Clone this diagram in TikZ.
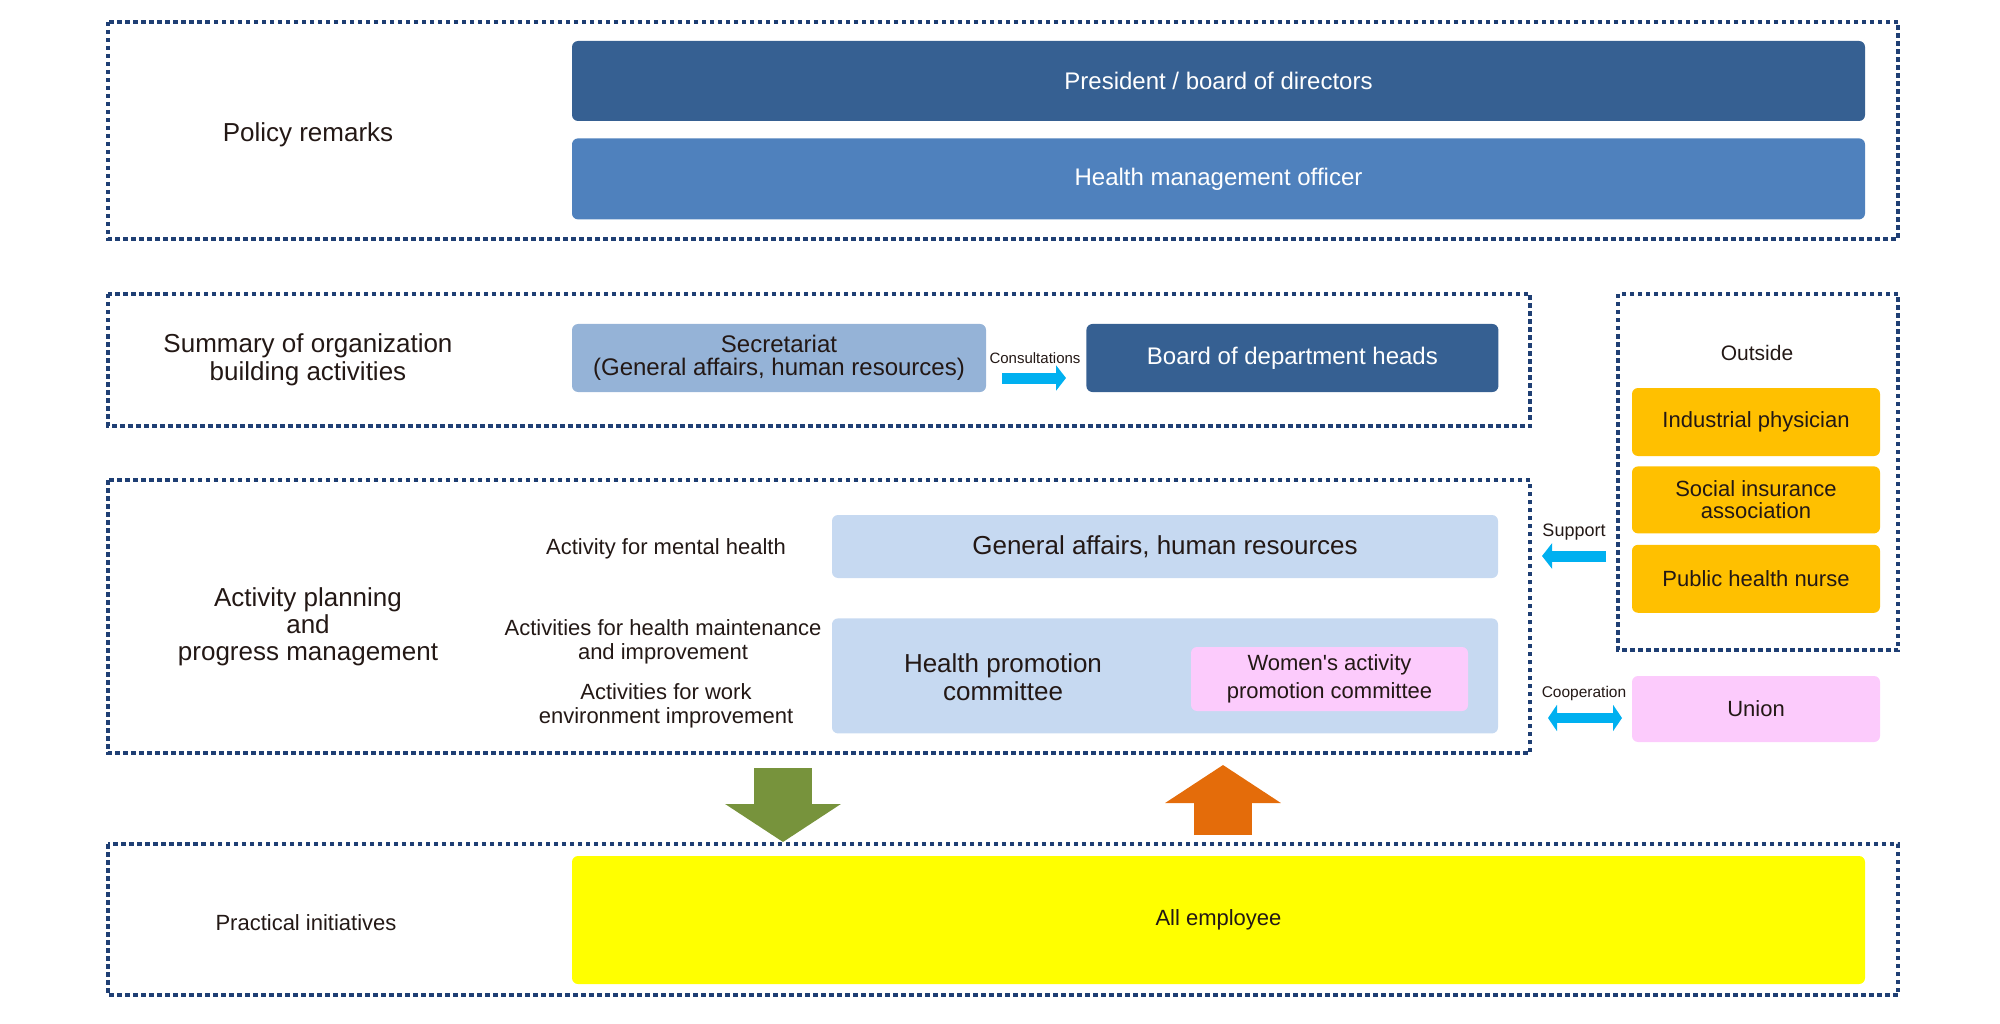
\documentclass[tikz,border=0pt]{standalone}
\usepackage{fontspec}
\setmainfont{Liberation Sans}
\usetikzlibrary{arrows.meta,positioning}

\definecolor{framecol}{RGB}{31,63,116}
\definecolor{inkcol}{RGB}{35,24,21}
\definecolor{presblue}{RGB}{54,96,146}
\definecolor{hmoblue}{RGB}{79,129,189}
\definecolor{secblue}{RGB}{149,179,215}
\definecolor{paleblue}{RGB}{198,217,241}
\definecolor{pinkbox}{RGB}{252,203,252}
\definecolor{amberbox}{RGB}{255,192,0}
\definecolor{yellowbox}{RGB}{255,255,0}
\definecolor{downgreen}{RGB}{119,147,60}
\definecolor{uporange}{RGB}{228,108,10}
\definecolor{arrowcyan}{RGB}{0,176,240}

\newcommand\setfs[2]{\fontsize{#1}{#2}\selectfont}

\begin{document}
\begin{tikzpicture}[x=1pt,y=-1pt,node distance=10pt,
  every node/.style={text=inkcol},
  dot frame/.style={draw=framecol,line width=4pt,dash pattern=on 4.5pt off 3.5pt},
  main box/.style={rounded corners=6pt,inner sep=0pt,align=center},
  wide box/.style={main box,minimum width=1293pt},
  side box/.style={main box,fill=amberbox,minimum width=248pt,font=\setfs{22}{22}},
  side label/.style={align=center,font=\setfs{22}{24}},
  cyan arrow/.style={draw=arrowcyan,line width=11pt,-{Triangle[length=10pt,width=25pt]}},
  block arrow/.style={line width=58pt,-{Triangle[length=38pt,width=114pt]}}]

  \useasboundingbox (0,0) rectangle (2000,1024);

  % dotted frames
  \draw[dot frame] (108,22) rectangle (1898,239);
  \draw[dot frame] (108,294) rectangle (1530,426);
  \draw[dot frame] (108,480) rectangle (1530,753);
  \draw[dot frame] (1618,294) rectangle (1898,650);
  \draw[dot frame] (108,844) rectangle (1898,995);

  % left labels
  \node[align=center,font=\setfs{26}{28}] (policy) at (308,135) {Policy remarks};
  \node[align=center,font=\setfs{26}{28}] (summary) at (308,360) {Summary of organization\\building activities};
  \node[align=center,font=\setfs{26}{27}] (planning) at (308,627) {Activity planning\\and\\progress management};
  \node[align=center,font=\setfs{22}{24}] (practice) at (306,923) {Practical initiatives};

  % policy row
  \node[wide box,fill=presblue,text=white,minimum height=80pt,font=\setfs{24}{28}] (pres) at (1218.5,81) {President / board of directors};
  \node[wide box,fill=hmoblue,text=white,minimum height=81pt,font=\setfs{24}{28},below=17pt of pres] (hmo) {Health management officer};

  % organization row
  \node[main box,fill=secblue,minimum width=414pt,minimum height=68pt,font=\setfs{24}{23}] (sec) at (779,358) {Secretariat\\(General affairs, human resources)};
  \node[main box,fill=presblue,text=white,minimum width=412pt,minimum height=68pt,font=\setfs{24}{28},right=100pt of sec] (board) {Board of department heads};
  \node[font=\setfs{15}{16}] (cons) at (1035,358) {Consultations};

  % activity row
  \node[main box,fill=paleblue,minimum width=666pt,minimum height=63pt,font=\setfs{26}{28}] (ga) at (1165,546.5) {General affairs, human resources};
  \node[main box,fill=paleblue,minimum width=666pt,minimum height=115pt,below=40pt of ga] (hpc) {};
  \node[align=center,font=\setfs{26}{28}] (hpc text) at (1003,677) {Health promotion\\committee};
  \node[main box,fill=pinkbox,minimum width=277pt,minimum height=64pt,font=\setfs{22}{28}] (women) at (1329.5,679) {Women\textquotesingle s activity\\promotion committee};
  \node[side label] (mental) at (666,549) {Activity for mental health};
  \node[side label] (maint) at (663,642) {Activities for health maintenance\\and improvement};
  \node[side label] (work) at (666,706) {Activities for work\\environment improvement};

  % outside
  \node[font=\setfs{21}{24}] (outside) at (1757,353) {Outside};
  \node[side box,minimum height=68pt] (phys) at (1756,422) {Industrial physician};
  \node[side box,minimum height=67pt,below=10pt of phys] (social) {Social insurance\\association};
  \node[side box,minimum height=68pt,below=11pt of social] (nurse) {Public health nurse};
  \node[side box,fill=pinkbox,minimum height=66pt] (union) at (1756,709) {Union};
  \node[font=\setfs{18}{20}] (support) at (1574,532) {Support};
  \node[font=\setfs{15.5}{18}] (coop) at (1584,693) {Cooperation};

  % bottom row
  \node[wide box,fill=yellowbox,minimum height=128pt,font=\setfs{22}{24}] (staff) at (1218.5,920) {All employee};

  % arrows
  \coordinate (cons a) at (1002,378);
  \coordinate (cons b) at (1066,378);
  \coordinate (sup a) at (1606,556);
  \coordinate (sup b) at (1542,556);
  \coordinate (coop a) at (1548,718);
  \coordinate (coop b) at (1622,718);
  \coordinate (down a) at (783,768);
  \coordinate (down b) at (783,842);
  \coordinate (up a) at (1223,835);
  \coordinate (up b) at (1223,765);

  \draw[cyan arrow] (cons a) -- (cons b);
  \draw[cyan arrow] (sup a) -- (sup b);
  \draw[cyan arrow,{Triangle[length=9pt,width=26pt]}-{Triangle[length=9pt,width=26pt]},line width=10pt] (coop a) -- (coop b);
  \draw[block arrow,draw=downgreen] (down a) -- (down b);
  \draw[block arrow,draw=uporange] (up a) -- (up b);

\end{tikzpicture}
\end{document}
